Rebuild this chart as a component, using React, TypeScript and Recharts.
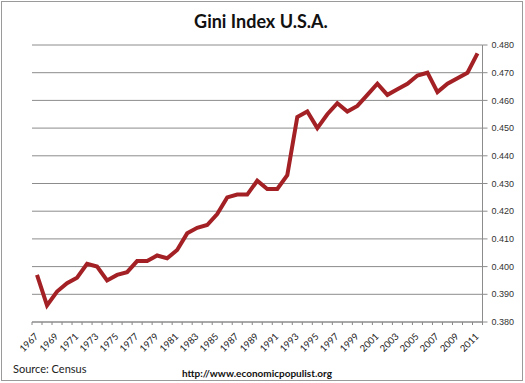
import React from "react";
import { LineChart, Line, XAxis, YAxis, CartesianGrid } from "recharts";

const years: number[] = [
  1967, 1968, 1969, 1970, 1971, 1972, 1973, 1974, 1975, 1976, 1977, 1978, 1979, 1980, 1981,
  1982, 1983, 1984, 1985, 1986, 1987, 1988, 1989, 1990, 1991, 1992, 1993, 1994, 1995, 1996,
  1997, 1998, 1999, 2000, 2001, 2002, 2003, 2004, 2005, 2006, 2007, 2008, 2009, 2010, 2011,
];

const gini: number[] = [
  0.397, 0.386, 0.391, 0.394, 0.396, 0.401, 0.4, 0.395, 0.397, 0.398, 0.402, 0.402, 0.404, 0.403, 0.406,
  0.412, 0.414, 0.415, 0.419, 0.425, 0.426, 0.426, 0.431, 0.428, 0.428, 0.433, 0.454, 0.456, 0.45, 0.455,
  0.459, 0.456, 0.458, 0.462, 0.466, 0.462, 0.464, 0.466, 0.469, 0.47, 0.463, 0.466, 0.468, 0.47, 0.477,
];

const yTicks: number[] = [0.38, 0.39, 0.4, 0.41, 0.42, 0.43, 0.44, 0.45, 0.46, 0.47, 0.48];

const title = "Gini Index U.S.A.";
const sourceText = "Source: Census";
const urlText = "http://www.economicpopulist.org";

const data = years.map((y, i) => ({ year: String(y), gini: gini[i] }));

const XTick = (props: any) => {
  const { x, y, payload } = props;
  const idx = payload.index;
  const yr = Number(payload.value);
  const showLabel = (yr - 1967) % 2 === 0;
  return (
    <g>
      <line x1={x - 5} x2={x - 5} y1={y} y2={y + 3} stroke="#888" strokeWidth={1} />
      {idx === years.length - 1 && (
        <line x1={x + 5} x2={x + 5} y1={y} y2={y + 3} stroke="#888" strokeWidth={1} />
      )}
      {showLabel && (
        <text
          x={x + 2}
          y={y + 15}
          transform={`rotate(-45, ${x + 2}, ${y + 15})`}
          textAnchor="end"
          fontSize={9.5}
          fontFamily="Lato, 'Open Sans', sans-serif"
          fill="#222"
        >
          {payload.value}
        </text>
      )}
    </g>
  );
};

export default function App() {
  return (
    <div style={{ position: "absolute", left: 0, top: 0, width: 525, height: 383, background: "#fff" }}>
      <LineChart
        width={525}
        height={383}
        data={data}
        margin={{ top: 45, right: 2.5, left: 32, bottom: 21 }}
      >
        <CartesianGrid vertical={false} stroke="#8c8c8c" strokeWidth={1} />
        <XAxis
          dataKey="year"
          interval={0}
          tickLine={false}
          tickSize={0}
          tickMargin={0}
          height={40}
          padding={{ left: 5, right: 5 }}
          axisLine={{ stroke: "#8c8c8c" }}
          tick={<XTick />}
        />
        <YAxis
          orientation="right"
          width={40}
          domain={[0.38, 0.48]}
          ticks={yTicks}
          interval={0}
          tickFormatter={(v: number) => v.toFixed(3)}
          axisLine={{ stroke: "#8c8c8c" }}
          tickLine={{ stroke: "#8c8c8c" }}
          tickSize={5}
          tickMargin={4}
          tick={{ fontSize: 9, fill: "#333", fontFamily: "'Liberation Sans', Arial, sans-serif" }}
        />
        <Line
          type="linear"
          dataKey="gini"
          stroke="#a32024"
          strokeWidth={4}
          dot={false}
          isAnimationActive={false}
        />
      </LineChart>
      <svg
        width={525}
        height={383}
        style={{ position: "absolute", left: 0, top: 0, pointerEvents: "none" }}
      >
        <rect x={1.5} y={1.5} width={521} height={379} fill="none" stroke="#9a9a9a" strokeWidth={1} />
        <text
          x={261}
          y={28}
          textAnchor="middle"
          fontSize={18}
          fontWeight="bold"
          fontFamily="Lato, 'Open Sans', sans-serif"
          fill="#111"
        >
          {title}
        </text>
        <text x={13} y={373} fontSize={11} fontFamily="Lato, 'Open Sans', sans-serif" fill="#222">
          {sourceText}
        </text>
        <text
          x={257}
          y={377}
          textAnchor="middle"
          fontSize={10}
          fontWeight="bold"
          fontFamily="Lato, 'Open Sans', sans-serif"
          fill="#111"
        >
          {urlText}
        </text>
      </svg>
    </div>
  );
}
